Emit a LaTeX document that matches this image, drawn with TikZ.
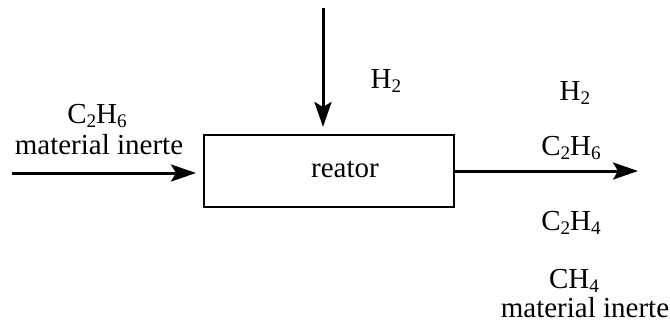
\documentclass[tikz,border=0pt]{standalone}
\usepackage{fontspec}
\setmainfont{Liberation Serif}
\usetikzlibrary{arrows.meta}
\newcommand{\chemsub}[1]{\raisebox{-2.2pt}{\fontsize{9.6pt}{10pt}\selectfont #1}}
\begin{document}
\begin{tikzpicture}[x=0.5pt,y=-0.5pt,
  lbl/.style={anchor=base,inner sep=0pt,font=\fontsize{14.5pt}{17pt}\selectfont},
  flow/.style={line width=1.5pt,-{Stealth[length=12.5pt,width=8.5pt,inset=2.5pt]}},
  box/.style={draw,line width=1pt,minimum width=125pt,minimum height=36pt,inner sep=0pt}]
\useasboundingbox (0,0) rectangle (670,327);
\node[box] (reactor) at (329,171) {};
\node[lbl] (rtext) at (345,177) {reator};
% feed from the left
\coordinate (inL) at (12,173);
\draw[flow,shorten >=3.5pt] (inL) -- (reactor.west |- inL);
\node[lbl] (inC2H6) at (97,123) {C\chemsub{2}H\chemsub{6}};
\node[lbl] (inInert) at (99,154) {material inerte};
% hydrogen from the top
\coordinate (inT) at (323,8);
\draw[flow,shorten >=3.5pt] (inT) -- (reactor.north -| inT);
\node[lbl] (inH2) at (386,88) {H\chemsub{2}};
% product stream
\coordinate (outR) at (638,171);
\draw[flow] (reactor.east) -- (outR);
\node[lbl] (outH2) at (575,100) {H\chemsub{2}};
\node[lbl] (outC2H6) at (571,155) {C\chemsub{2}H\chemsub{6}};
\node[lbl] (outC2H4) at (571,230) {C\chemsub{2}H\chemsub{4}};
\node[lbl] (outCH4) at (574,288) {CH\chemsub{4}};
\node[lbl] (outInert) at (585,317) {material inerte};
\end{tikzpicture}
\end{document}
